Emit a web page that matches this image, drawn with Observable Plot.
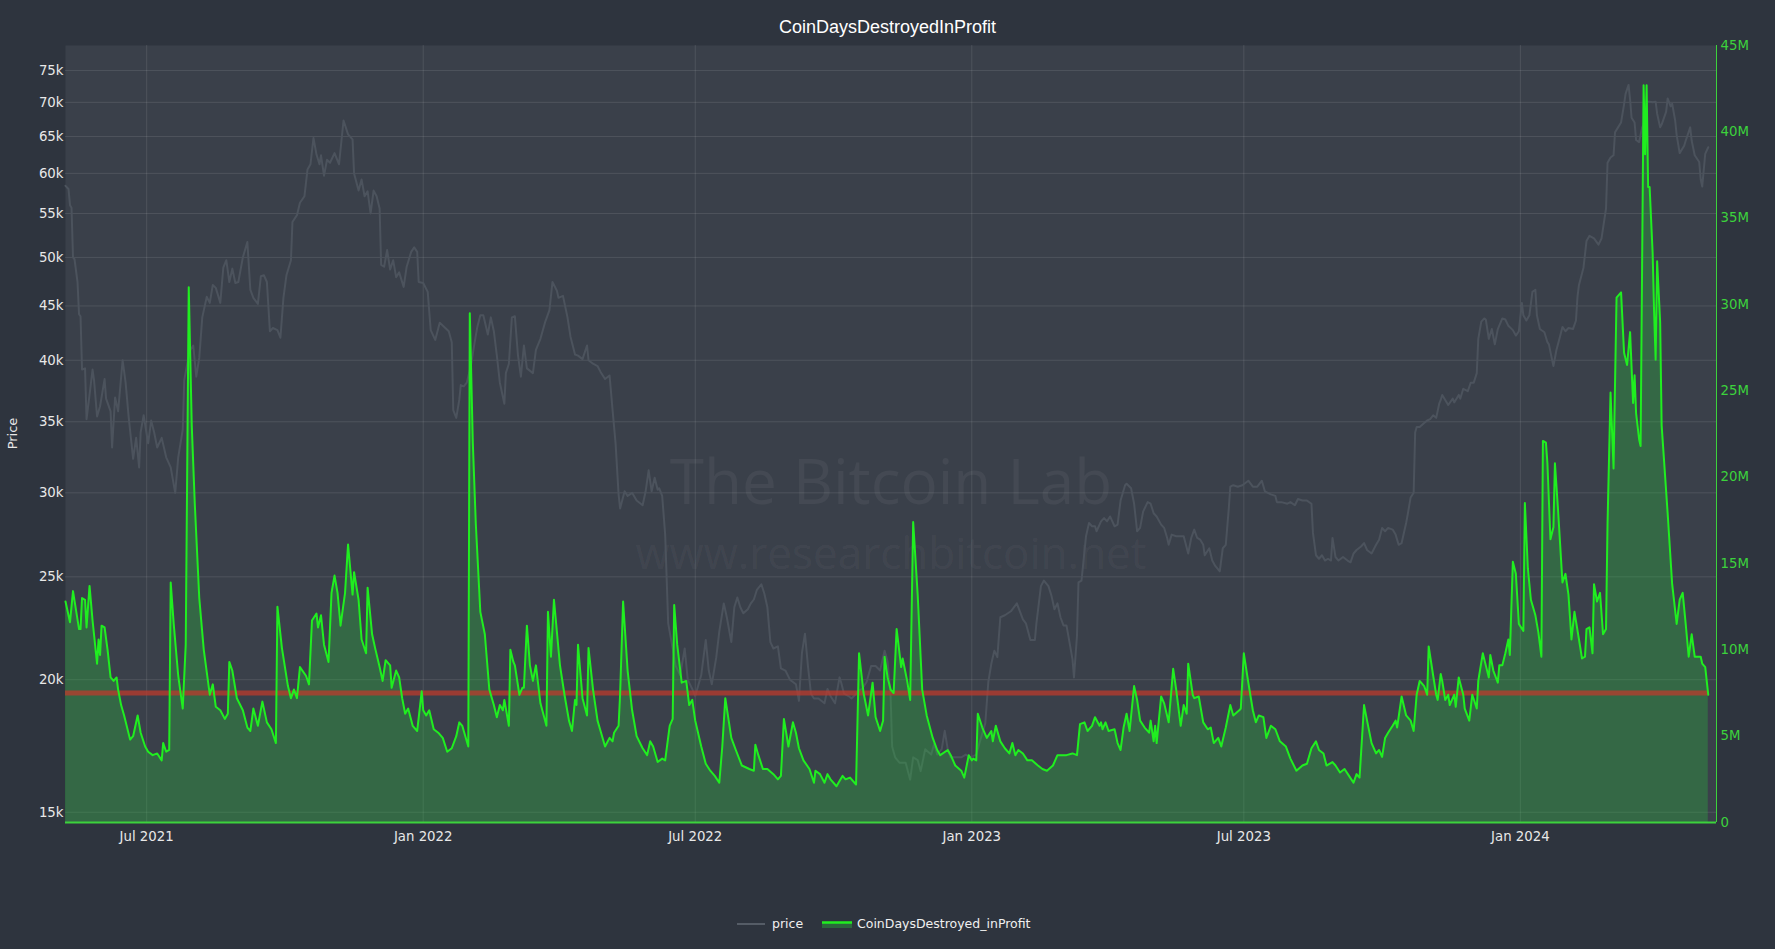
<!DOCTYPE html>
<html>
<head>
<meta charset="utf-8">
<script src="https://cdn.jsdelivr.net/npm/d3@7"></script>
<script src="https://cdn.jsdelivr.net/npm/@observablehq/plot@0.6"></script>
<style>
html,body{margin:0;padding:0;background:#2e343e;}
#root{position:relative;width:1775px;height:949px;overflow:hidden;background:#2e343e;}
#title{position:absolute;left:0;top:18px;width:1775px;text-align:center;color:#ffffff;font-family:"Liberation Sans",Arial,sans-serif;font-size:18px;line-height:18px;}
.layer{position:absolute;left:0;top:0;}
</style>
</head>
<body>
<div id="root">
  <div id="title"></div>
  <div id="chart"></div>
  <svg id="ylab" class="layer" width="40" height="870"></svg>
  <svg id="legend" width="1775" height="60" style="position:absolute;left:0;top:895px"></svg>
</div>
<script>
// ---------------- data ----------------
const chartTitle = "CoinDaysDestroyedInProfit";
const seriesNames = ["price", "CoinDaysDestroyed_inProfit"];
const yAxisTitle = "Price";
const startDate = "2021-05-08";          // day 0 of the series
const endOfRange = "2024-05-10T12:00:00Z";
const cddThresholdMillions = 7.5;

// [day since startDate, CoinDaysDestroyed in profit (millions)]
const cddSeries = [
[0,12.8],[3,11.6],[5,13.4],[9,11.2],[10,11.2],[11,13.0],[13,12.9],[14,11.3],[16,13.7],[18,11.7],[21,9.2],[22,10.6],[23,9.7],[24,11.4],[26,11.3],[28,10.0],[30,8.4],[32,8.2],[34,8.4],[35,7.7],[37,6.8],[39,6.2],[43,4.8],[45,5.0],[48,6.2],[50,5.2],[53,4.4],[55,4.1],[58,3.9],[61,4.0],[64,3.6],[65,4.6],[67,4.1],[69,4.2],[70,13.9],[72,11.5],[75,8.5],[78,6.6],[80,10.3],[82,31.0],[84,23.0],[86,18.5],[89,13.0],[92,10.0],[96,7.4],[98,8.0],[100,6.7],[103,6.5],[106,6.0],[108,6.3],[109,9.3],[111,8.8],[114,7.2],[118,6.5],[121,5.5],[123,5.3],[125,6.6],[128,5.6],[131,7.0],[134,5.8],[137,5.4],[140,4.6],[141,12.5],[144,10.1],[148,7.9],[150,7.2],[152,7.7],[154,7.2],[156,9.0],[160,8.5],[162,8.0],[164,11.7],[167,12.1],[168,11.3],[170,12.0],[172,10.3],[175,9.3],[177,13.3],[179,14.3],[181,13.3],[183,11.4],[186,13.3],
[188,16.1],[191,13.2],[192,14.5],[195,12.9],[197,10.6],[200,9.8],[201,13.6],[204,10.9],[206,10.1],[209,9.0],[211,8.2],[213,9.4],[216,9.1],[217,7.8],[220,8.8],[222,8.4],[224,7.2],[226,6.3],[228,6.6],[231,5.6],[234,5.3],[237,7.6],[238,6.5],[240,6.2],[242,6.5],[245,5.4],[248,5.2],[251,4.9],[254,4.1],[257,4.3],[260,5.0],[262,5.8],[264,5.6],[268,4.4],[269,29.5],[271,22.0],[273,17.3],[276,12.2],[279,10.9],[282,7.7],[285,6.8],[287,6.1],[289,6.8],[291,6.5],[292,7.1],[295,5.6],[296,10.0],[298,9.3],[299,9.1],[302,7.4],[304,7.8],[305,7.8],[307,11.4],[309,9.1],[311,8.2],[313,9.1],[316,6.9],[320,5.6],[321,12.2],[323,9.6],[325,12.9],[329,9.1],[332,7.4],[335,5.9],[337,5.3],[339,7.1],[340,6.8],[341,10.3],[344,7.2],[347,6.2],[348,10.1],[351,7.7],[354,5.9],[356,5.3],[359,4.4],[362,4.9],[364,4.7],[365,5.2],[368,5.6],[369,7.4],[371,12.8],
[374,8.8],[377,6.5],[380,5.0],[384,4.3],[387,3.9],[389,4.7],[391,4.4],[394,3.5],[397,3.7],[399,3.6],[402,5.6],[404,6.0],[405,12.6],[407,10.3],[410,8.1],[413,8.2],[415,6.8],[417,7.1],[419,5.9],[423,4.4],[426,3.4],[429,3.0],[432,2.7],[435,2.3],[437,4.4],[439,7.2],[443,4.9],[446,4.2],[450,3.3],[455,3.1],[458,3.0],[459,4.5],[461,3.9],[464,3.1],[467,3.1],[471,2.8],[474,2.5],[476,2.7],[478,6.0],[481,4.4],[484,5.8],[486,5.2],[488,4.3],[491,3.6],[495,3.1],[498,2.3],[499,3.0],[502,2.8],[505,2.3],[507,2.8],[509,2.5],[513,2.1],[515,2.4],[517,2.7],[519,2.5],[522,2.6],[526,2.2],[528,9.8],[531,7.5],[534,6.2],[537,8.1],[539,6.1],[542,5.3],[544,5.9],[545,9.6],[547,8.4],[549,7.7],[551,7.5],[553,11.2],[556,9.0],[557,9.5],
[560,8.2],[562,7.1],[564,17.4],[567,13.2],[570,7.7],[573,6.2],[577,4.9],[580,4.2],[582,3.9],[587,4.2],[589,3.9],[592,3.3],[596,3.0],[598,2.6],[601,3.9],[603,3.6],[604,3.7],[606,3.6],[607,6.3],[610,5.5],[613,4.9],[616,5.3],[617,4.7],[619,5.6],[622,4.7],[625,4.3],[628,4.0],[630,4.6],[632,3.9],[634,4.2],[637,4.0],[640,3.6],[643,3.6],[647,3.3],[650,3.1],[653,3.0],[657,3.3],[660,3.9],[663,3.9],[666,3.9],[670,4.0],[673,3.9],[675,5.7],[678,5.8],[680,5.3],[683,5.6],[685,6.1],[688,5.6],[689,5.8],[690,5.4],[692,5.8],[694,5.3],[698,5.4],[700,4.6],[702,4.2],[704,5.5],[706,6.3],[708,5.3],[711,7.9],[713,7.1],[715,5.9],[718,5.5],[721,5.2],[722,5.9],[724,4.7],[725,5.6],[726,4.6],[729,7.3],[731,6.9],[734,5.8],[737,8.9],[739,7.7],[742,5.6],[744,6.8],
[746,6.3],[747,9.2],[750,7.4],[751,7.2],[754,7.3],[757,5.8],[760,5.4],[762,5.5],[764,4.6],[767,4.9],[769,4.4],[772,5.5],[775,6.8],[777,6.2],[781,6.5],[782,6.6],[784,9.8],[787,8.1],[790,6.5],[792,5.8],[794,6.2],[797,6.1],[799,4.9],[802,5.6],[805,5.4],[808,4.7],[812,4.4],[815,3.7],[819,3.0],[823,3.3],[826,3.4],[829,4.3],[832,4.7],[834,4.2],[837,4.0],[839,3.3],[843,3.5],[845,3.3],[848,2.9],[851,3.1],[854,2.7],[857,2.3],[859,2.8],[861,2.6],[864,6.8],[866,5.9],[869,4.6],[872,4.0],[874,4.2],[876,3.8],[878,4.9],[880,5.2],[883,5.6],[885,5.9],[886,5.5],[889,7.3],[892,6.2],[895,5.9],[897,5.3],[899,7.4],[901,8.2],[904,7.9],[906,7.4],[907,10.2],[910,8.5],
[912,7.4],[913,7.1],[915,8.6],[916,8.2],[918,7.1],[920,7.4],[921,6.8],[924,7.4],[925,6.7],[927,8.4],[930,7.4],[931,6.6],[934,5.9],[936,7.4],[939,6.6],[940,8.2],[943,9.8],[945,9.1],[947,8.4],[948,9.7],[950,8.8],[953,8.1],[954,9.1],[956,9.1],[958,9.8],[960,10.6],[961,9.7],[963,15.1],[965,14.4],[967,11.5],[970,11.1],[971,18.5],[973,14.7],[975,12.9],[978,12.0],[980,11.0],[982,9.6],[983,22.1],[985,22.0],[986,20.8],[988,16.4],[990,17.1],[991,20.8],[993,18.2],[996,13.9],[998,14.4],[1000,13.2],[1002,10.6],[1004,12.2],[1007,10.6],[1009,9.5],[1011,9.6],[1012,11.2],[1014,11.3],[1016,9.8],[1017,13.8],[1019,12.8],[1021,13.3],[1023,10.9],[1025,11.2],[1026,17.3],[1028,24.9],[1030,20.5],[1032,30.4],[1035,30.7],[1037,27.2],[1039,26.5],[1041,28.4],[1043,24.3],[1044,25.9],[1045,23.7],[1047,22.2],[1048,21.8],[1050,42.7],[1051,38.7],[1052,42.7],[1053,36.8],[1054,36.8],[1056,33.0],[1057,29.5],[1058,26.8],[1059,32.5],[1061,29.0],[1062,23.0],[1066,17.9],[1069,13.8],[1072,11.5],[1074,12.9],[1076,13.3],[1078,11.5],[1080,9.6],[1082,10.9],[1084,9.6],[1086,9.6],[1088,9.6],[1089,9.2],[1091,9.0],[1093,7.4]
];

// [day since startDate, BTC price (thousand USD)]
const priceSeries = [
[0,58.4],[2,58.0],[3,56.0],[4,55.7],[5,50.0],[6,49.8],[8,47.4],[9,44.2],[10,44.0],[11,39.2],[13,39.3],[14,35.2],[16,37.1],[18,39.2],[19,38.3],[21,35.4],[23,36.2],[26,38.4],[27,36.8],[30,35.8],[31,33.1],[33,36.9],[35,35.8],[38,40.0],[40,38.1],[42,35.4],[45,32.3],[47,33.8],[49,31.7],[50,34.2],[52,35.5],[55,33.4],[57,35.1],[59,34.2],[61,33.1],[64,33.8],[67,32.4],[70,31.7],[73,30.0],[75,32.4],[78,34.4],[79,38.3],[81,39.7],[83,40.9],[85,41.3],[87,38.6],[89,40.2],[91,43.9],[94,45.9],[96,45.3],[98,47.1],[100,46.8],[103,45.3],[105,48.9],[107,49.7],[109,47.4],[111,48.8],[113,47.3],[115,47.4],[118,50.0],[121,51.7],[123,46.6],[125,45.8],[128,45.2],[130,48.0],[132,48.1],[134,47.4],[136,42.6],[138,42.9],[141,42.7],[143,42.0],[145,45.8],[147,48.1],[150,49.7],[151,54.0],[154,54.8],[156,56.3],[159,57.1],[161,60.5],[163,61.2],[165,64.8],[167,62.5],[169,61.2],[170,62.4],[172,59.7],[174,61.8],[176,61.4],[179,62.7],[182,61.2],[185,67.3],
[188,65.3],[191,64.6],[192,60.0],[195,57.8],[197,59.2],[199,57.1],[201,57.7],[203,55.0],[205,57.8],[207,57.1],[209,55.6],[210,49.2],[212,49.0],[214,50.8],[216,48.7],[218,49.7],[220,47.9],[222,48.4],[225,46.9],[227,49.0],[230,50.6],[232,51.1],[234,50.6],[235,47.4],[238,47.3],[241,46.4],[243,42.7],[246,41.8],[249,43.4],[252,43.0],[255,42.6],[257,41.6],[258,35.9],[260,35.3],[262,36.7],[263,37.9],[265,37.8],[267,38.1],[270,39.7],[272,41.4],[274,43.0],[276,44.1],[278,44.1],[281,42.3],[283,43.9],[285,42.6],[287,40.4],[289,38.1],[292,36.4],[293,38.9],[295,39.7],[297,43.9],[299,44.0],[301,40.5],[303,38.6],[305,41.3],[307,39.3],[311,38.9],[313,40.9],[316,41.9],[319,43.4],[322,44.6],[324,47.4],[327,46.5],[328,45.8],[331,46.0],[334,43.9],[336,42.1],[339,40.5],[341,40.4],[344,40.1],[347,41.3],[348,40.0],[351,39.7],[354,39.5],[356,39.0],[359,38.4],[362,38.7],[364,35.9],[366,33.4],[368,29.9],[369,29.0],
[372,30.1],[374,29.8],[377,30.0],[380,29.5],[384,29.2],[386,30.1],[388,31.5],[390,30.1],[392,31.0],[394,30.2],[395,30.3],[397,29.8],[399,27.4],[401,22.6],[404,21.4],[406,20.6],[409,20.2],[412,21.4],[414,20.0],[417,19.6],[419,19.3],[423,20.2],[426,21.8],[428,20.4],[430,19.8],[433,21.0],[435,22.2],[438,23.6],[440,22.9],[443,21.7],[445,23.4],[447,23.9],[449,23.4],[451,23.1],[454,23.3],[456,23.6],[458,23.8],[460,24.3],[463,24.6],[465,24.1],[467,23.4],[469,21.7],[471,21.4],[474,21.5],[476,20.5],[479,20.4],[482,20.0],[486,19.8],[488,19.1],[490,21.2],[492,22.1],[494,20.6],[496,19.4],[498,19.2],[501,19.2],[505,19.0],[507,19.6],[509,19.3],[512,19.0],[515,20.1],[516,19.9],[518,19.4],[521,19.3],[523,19.2],[526,19.4],[527,19.5],[530,19.6],[533,19.9],[536,20.6],[539,20.6],[542,20.4],[545,21.3],[547,20.8],[549,19.3],[550,17.3],[552,16.9],[555,16.7],[557,16.7],
[559,16.7],[562,16.1],[564,16.9],[567,16.8],[569,16.4],[572,17.2],[576,17.0],[578,17.4],[580,17.0],[583,17.2],[585,17.9],[587,17.2],[589,16.9],[592,16.9],[596,16.9],[599,17.0],[602,16.9],[606,17.0],[609,17.6],[612,18.2],[614,19.9],[616,20.7],[618,21.3],[620,21.0],[622,22.9],[625,23.0],[627,23.1],[629,23.2],[631,23.4],[633,23.6],[635,23.2],[637,22.8],[639,22.6],[642,21.8],[645,21.8],[646,22.6],[649,24.5],[651,24.8],[654,24.5],[656,24.0],[658,23.3],[660,23.6],[662,22.9],[664,22.5],[666,22.5],[668,21.7],[670,20.9],[671,20.1],[673,22.0],[674,24.7],[676,24.8],[679,27.3],[681,28.1],[683,27.9],[685,27.9],[686,27.6],[689,28.2],[691,28.4],[693,28.2],[695,28.5],[698,27.9],[700,28.0],[702,29.5],[705,30.5],[706,30.6],[709,30.3],[711,29.3],[713,27.6],[715,27.8],[717,28.8],[720,29.4],[722,29.3],[724,28.7],[726,28.5],[729,28.0],[731,27.8],[733,27.2],[734,26.8],[736,27.4],[739,27.3],[742,27.3],[744,27.3],
[747,26.3],[749,27.2],[751,27.7],[753,27.2],[755,27.1],[757,26.8],[758,26.2],[761,26.6],[763,25.9],[765,25.6],[768,25.3],[770,26.6],[772,26.8],[774,29.0],[775,30.4],[777,30.5],[780,30.4],[783,30.5],[787,30.8],[790,30.4],[793,30.4],[796,30.8],[798,30.1],[802,29.9],[805,29.8],[806,29.4],[809,29.4],[813,29.3],[815,29.4],[818,29.2],[820,29.6],[823,29.5],[826,29.5],[829,29.3],[830,27.5],[832,26.2],[834,26.0],[836,26.2],[838,25.9],[840,26.0],[842,25.9],[843,27.2],[845,26.1],[847,25.9],[850,26.1],[853,25.9],[855,25.8],[857,26.3],[859,26.5],[862,26.7],[864,26.9],[866,26.5],[869,26.3],[872,26.8],[874,27.1],[876,27.8],[878,27.6],[880,27.8],[883,27.7],[885,27.4],[887,26.8],[889,26.9],[892,28.1],[893,28.6],[895,29.7],[897,30.0],[898,34.2],[899,34.6],[901,34.6],[904,34.9],[906,35.1],[908,35.2],[910,35.5],[912,35.3],[914,36.4],
[915,36.7],[916,37.1],[918,36.7],[920,36.3],[923,36.8],[924,36.5],[927,37.1],[928,36.8],[930,37.6],[933,37.4],[935,38.1],[937,38.1],[939,38.9],[940,41.9],[942,43.5],[944,43.8],[945,43.7],[947,41.9],[949,42.8],[951,41.4],[953,42.8],[956,43.8],[958,43.7],[960,43.1],[963,42.7],[965,42.2],[967,42.6],[969,45.3],[970,44.1],[972,43.6],[974,44.1],[976,46.4],[978,46.6],[979,44.1],[981,42.8],[984,42.5],[986,41.6],[987,41.4],[989,40.1],[990,39.5],[992,40.9],[994,41.9],[996,43.0],[998,42.6],[1000,42.9],[1003,42.8],[1005,43.6],[1006,45.9],[1007,47.1],[1010,48.9],[1012,51.8],[1014,52.4],[1017,52.1],[1020,51.4],[1022,52.1],[1025,55.6],[1026,61.4],[1028,62.1],[1030,62.4],[1031,65.6],[1033,66.3],[1035,67.0],[1037,69.7],[1038,71.3],[1040,72.7],[1041,70.4],[1042,67.7],[1044,67.0],[1045,64.5],[1047,64.2],[1049,66.3],[1050,66.7],[1052,70.1],[1054,70.1],[1056,70.0],[1058,70.1],[1059,68.3],[1061,66.3],[1062,66.7],[1065,68.6],[1066,70.6],[1068,69.4],[1069,69.8],[1071,67.3],[1072,65.2],[1074,62.7],[1077,63.7],[1078,64.4],[1081,66.3],[1082,64.4],[1084,62.4],[1087,61.5],[1088,59.2],[1089,58.3],[1091,62.6],[1093,63.5]
];

const priceTicks = [15000,20000,25000,30000,35000,40000,45000,50000,55000,60000,65000,70000,75000];
const priceDomain = [14670, 79190];
const cddTicks = [0,5e6,10e6,15e6,20e6,25e6,30e6,35e6,40e6,45e6];
const cddDomain = [0, 45e6];
const xTickDates = ["2021-07-01","2022-01-01","2022-07-01","2023-01-01","2023-07-01","2024-01-01"];
const watermark = ["The Bitcoin Lab", "www.researchbitcoin.net"];

// ---------------- build ----------------
const t0 = new Date(startDate + "T00:00:00Z").getTime();
const toDate = d => new Date(t0 + d * 86400000);
const cdd = cddSeries.map(([d, v]) => ({date: toDate(d), value: v * 1e6}));
const price = priceSeries.map(([d, v]) => ({date: toDate(d), value: v * 1000}));
const xDomain = [toDate(0), new Date(endOfRange)];
const xTicks = xTickDates.map(s => new Date(s + "T00:00:00Z"));

const W = 1775, H = 870;
const margins = {marginLeft: 65, marginRight: 59, marginTop: 45, marginBottom: 48};
const font = "'DejaVu Sans', Verdana, sans-serif";
const green = "#20ee20";
const axisGreen = "#3cd23c";

const pricePlot = Plot.plot({
  width: W, height: H, ...margins,
  style: {background: "transparent", color: "#e8e8e8", fontFamily: font, fontSize: "13.3px"},
  x: {type: "utc", domain: xDomain, label: null},
  y: {type: "log", domain: priceDomain, label: null},
  marks: [
    Plot.frame({fill: "#3a404a", stroke: "none"}),
    Plot.gridY(priceTicks, {stroke: "#ffffff", strokeOpacity: 0.1, strokeWidth: 1}),
    Plot.gridX(xTicks, {stroke: "#ffffff", strokeOpacity: 0.1, strokeWidth: 1}),
    Plot.text([watermark[0]], {frameAnchor: "middle", dy: 50, fontSize: 62, fontFamily: "'Open Sans', sans-serif", fill: "#ffffff", fillOpacity: 0.05}),
    Plot.text([watermark[1]], {frameAnchor: "middle", dy: 121, fontSize: 44, fontFamily: "'Open Sans', sans-serif", fill: "#ffffff", fillOpacity: 0.05}),
    Plot.lineY(price, {x: "date", y: "value", stroke: "#4c535d", strokeWidth: 2}),
    Plot.axisY(priceTicks, {tickSize: 0, tickPadding: 2, tickFormat: d => (d / 1000) + "k", label: null}),
    Plot.axisX(xTicks, {tickSize: 0, tickPadding: 9, tickFormat: d3.utcFormat("%b %Y"), label: null})
  ]
});

const cddPlot = Plot.plot({
  width: W, height: H, ...margins,
  style: {background: "transparent", color: axisGreen, fontFamily: font, fontSize: "13.3px"},
  x: {type: "utc", domain: xDomain, axis: null, label: null},
  y: {domain: cddDomain, label: null},
  marks: [
    Plot.areaY(cdd, {x: "date", y: "value", fill: "rgb(40,200,60)", fillOpacity: 0.3}),
    Plot.ruleY([{y: cddThresholdMillions * 1e6, x1: cdd[0].date, x2: cdd[cdd.length - 1].date}],
      {y: "y", x1: "x1", x2: "x2", stroke: "#c0392b", strokeOpacity: 0.72, strokeWidth: 5}),
    Plot.lineY(cdd, {x: "date", y: "value", stroke: green, strokeWidth: 2}),
    Plot.ruleY([0], {stroke: axisGreen, strokeWidth: 2}),
    Plot.ruleX([xDomain[1]], {stroke: axisGreen, strokeWidth: 1}),
    Plot.axisY(cddTicks, {anchor: "right", tickSize: 0, tickPadding: 4, label: null,
      tickFormat: d => d === 0 ? "0" : (d / 1e6) + "M"})
  ]
});

pricePlot.classList.add("layer");
cddPlot.classList.add("layer");
const chart = document.getElementById("chart");
chart.appendChild(pricePlot);
chart.appendChild(cddPlot);

document.getElementById("title").textContent = chartTitle;

// y-axis title
const ns = "http://www.w3.org/2000/svg";
const ylab = document.getElementById("ylab");
const yt = document.createElementNS(ns, "text");
yt.setAttribute("transform", "translate(16.5,433.5) rotate(-90)");
yt.setAttribute("text-anchor", "middle");
yt.setAttribute("fill", "#e8e8e8");
yt.setAttribute("font-family", "DejaVu Sans, sans-serif");
yt.setAttribute("font-size", "13");
yt.textContent = yAxisTitle;
ylab.appendChild(yt);

// legend
const lg = document.getElementById("legend");
function el(tag, attrs, text) {
  const e = document.createElementNS(ns, tag);
  for (const k in attrs) e.setAttribute(k, attrs[k]);
  if (text) e.textContent = text;
  lg.appendChild(e);
  return e;
}
el("line", {x1: 737, x2: 765, y1: 29, y2: 29, stroke: "#555c66", "stroke-width": 2});
el("text", {x: 772, y: 33.4, fill: "#f0f0f0", "font-family": "DejaVu Sans, sans-serif", "font-size": "12.5"}, seriesNames[0]);
el("rect", {x: 822, y: 27, width: 30, height: 6, fill: "rgb(40,200,60)", "fill-opacity": 0.35});
el("line", {x1: 822, x2: 852, y1: 27.5, y2: 27.5, stroke: green, "stroke-width": 2.5});
el("text", {x: 857, y: 33.4, fill: "#f0f0f0", "font-family": "DejaVu Sans, sans-serif", "font-size": "12.5"}, seriesNames[1]);
</script>
</body>
</html>
